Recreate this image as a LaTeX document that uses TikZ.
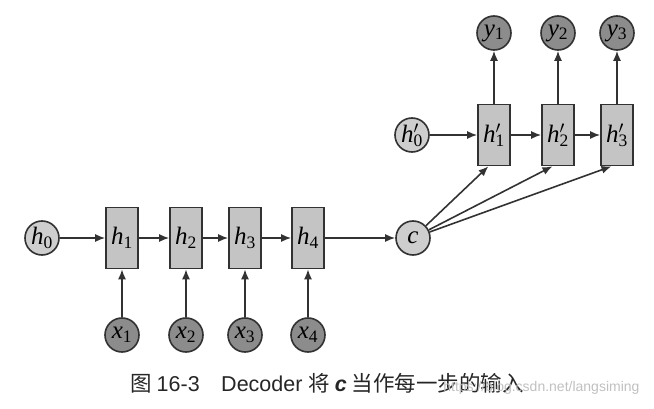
\documentclass[tikz,border=0pt]{standalone}
\usepackage{fontspec}
\setmainfont{Liberation Serif}
\newfontfamily\capfont{Liberation Sans}
\newfontfamily\cjkfont{Noto Sans CJK SC}
\usetikzlibrary{arrows.meta}
\definecolor{cellgray}{RGB}{196,196,196}
\definecolor{palegray}{RGB}{206,206,206}
\definecolor{deepgray}{RGB}{140,140,140}
\definecolor{linegray}{RGB}{50,50,50}
\definecolor{markgray}{RGB}{192,192,192}
\newcommand{\vlab}[2]{\textit{#1}\textsubscript{#2}}
\newcommand{\plab}[2]{\textit{#1}\rlap{\textsuperscript{$\prime$}}\textsubscript{#2}}
\tikzset{
    cell/.style={draw=linegray, line width=1.6pt, fill=cellgray, minimum width=32pt,
        minimum height=61pt, inner sep=0pt, font=\fontsize{25}{28}\selectfont},
    state/.style={circle, draw=linegray, line width=1.6pt, fill=palegray, minimum size=34pt,
        inner sep=0pt, font=\fontsize{25}{28}\selectfont},
    io/.style={state, fill=deepgray},
    flow/.style={-{Latex[length=10pt,width=8pt]}, line width=1.6pt, draw=linegray},
}
\begin{document}
\begin{tikzpicture}[x=1pt,y=-1pt]
    \useasboundingbox (0,0) rectangle (654,409);
    % encoder
    \node[state] (h0) at (42,238) {\vlab{h}{0}};
    \foreach \i/\x in {1/122, 2/186, 3/245, 4/308} {
        \node[cell] (h\i) at (\x,238) {\vlab{h}{\i}};
        \node[io] (x\i) at (\x,335) {\vlab{x}{\i}};
        \draw[flow] (x\i) -- (h\i);
    }
    \node[state] (c) at (413,238) {\textit{c}};
    \draw[flow] (h0) -- (h1);
    \draw[flow] (h1) -- (h2);
    \draw[flow] (h2) -- (h3);
    \draw[flow] (h3) -- (h4);
    \draw[flow] (h4) -- (c);
    % decoder
    \node[state] (hp0) at (412,135) {\plab{h}{0}};
    \foreach \i/\x in {1/494, 2/558, 3/617} {
        \node[cell] (hp\i) at (\x,135) {\plab{h}{\i}};
        \node[io] (y\i) at (\x,33) {\vlab{y}{\i}};
        \draw[flow] (hp\i) -- (y\i);
        \draw[flow] (c) -- (hp\i.-100);
    }
    \draw[flow] (hp0) -- (hp1);
    \draw[flow] (hp1) -- (hp2);
    \draw[flow] (hp2) -- (hp3);
    % caption
    \node[text=black!85, font=\fontsize{21.5}{24}\selectfont] (cap) at (327,383)
        {\cjkfont 图\ \capfont 16-3\quad Decoder \cjkfont 将 {\capfont\bfseries\itshape c} \cjkfont 当作每一步的输入};
    \node[anchor=east, text=markgray, font=\capfont\fontsize{14}{16}\selectfont] (mark) at (643,388)
        {https://blog.csdn.net/langsiming};
\end{tikzpicture}
\end{document}
